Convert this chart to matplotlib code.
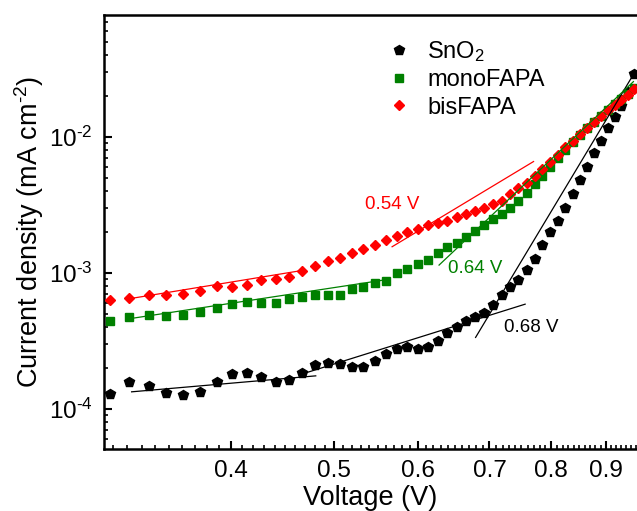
import numpy as np
import matplotlib
matplotlib.use("Agg")
import matplotlib.pyplot as plt
from matplotlib.ticker import FixedLocator, LogLocator, NullFormatter, FuncFormatter

plt.rcParams['font.family'] = ['Liberation Sans', 'DejaVu Sans']
plt.rcParams['mathtext.fontset'] = 'custom'
plt.rcParams['mathtext.rm'] = 'Liberation Sans'
plt.rcParams['mathtext.it'] = 'Liberation Sans:italic'
plt.rcParams['mathtext.bf'] = 'Liberation Sans:bold'

voltage = [0.308, 0.321, 0.335, 0.348, 0.361, 0.374, 0.388, 0.401, 0.414, 0.427,
           0.441, 0.454, 0.467, 0.480, 0.494, 0.507, 0.520, 0.533, 0.547, 0.560,
           0.573, 0.586, 0.600, 0.613, 0.626, 0.639, 0.653, 0.666, 0.679, 0.692,
           0.706, 0.719, 0.732, 0.745, 0.759, 0.772, 0.785, 0.798, 0.812, 0.825,
           0.838, 0.851, 0.865, 0.878, 0.891, 0.904, 0.918, 0.931, 0.944, 0.957]

sno2 = [1.28e-4, 1.56e-4, 1.46e-4, 1.30e-4, 1.25e-4, 1.33e-4, 1.58e-4, 1.81e-4, 1.83e-4, 1.71e-4,
        1.58e-4, 1.62e-4, 1.83e-4, 2.08e-4, 2.17e-4, 2.12e-4, 2.03e-4, 2.03e-4, 2.22e-4, 2.52e-4,
        2.75e-4, 2.85e-4, 2.75e-4, 2.85e-4, 3.12e-4, 3.57e-4, 4.00e-4, 4.38e-4, 4.69e-4, 5.07e-4,
        5.74e-4, 6.81e-4, 7.88e-4, 8.83e-4, 1.05e-3, 1.27e-3, 1.59e-3, 1.99e-3, 2.42e-3, 3.00e-3,
        3.8e-3, 4.8e-3, 6.0e-3, 7.6e-3, 9.4e-3, 1.17e-2, 1.41e-2, 1.70e-2, 2.15e-2, 2.9e-2]

mono = [4.38e-4, 4.69e-4, 4.85e-4, 4.77e-4, 4.85e-4, 5.10e-4, 5.49e-4, 5.84e-4, 6.08e-4, 6.01e-4,
        6.01e-4, 6.39e-4, 6.65e-4, 6.81e-4, 6.81e-4, 6.88e-4, 7.62e-4, 7.88e-4, 8.34e-4, 8.73e-4,
        9.89e-4, 1.07e-3, 1.16e-3, 1.24e-3, 1.39e-3, 1.54e-3, 1.66e-3, 1.82e-3, 2.02e-3, 2.23e-3,
        2.47e-3, 2.71e-3, 3.00e-3, 3.35e-3, 3.85e-3, 4.5e-3, 5.2e-3, 6.0e-3, 7.0e-3, 8.0e-3,
        9.2e-3, 1.04e-2, 1.16e-2, 1.29e-2, 1.43e-2, 1.58e-2, 1.74e-2, 1.91e-2, 2.08e-2, 2.28e-2]

bis = [6.29e-4, 6.47e-4, 6.88e-4, 6.85e-4, 6.92e-4, 7.37e-4, 7.97e-4, 7.88e-4, 8.16e-4, 8.83e-4,
       9.03e-4, 9.24e-4, 1.03e-3, 1.12e-3, 1.22e-3, 1.28e-3, 1.39e-3, 1.49e-3, 1.61e-3, 1.74e-3,
       1.86e-3, 1.99e-3, 2.11e-3, 2.23e-3, 2.34e-3, 2.42e-3, 2.59e-3, 2.71e-3, 2.86e-3, 3.00e-3,
       3.21e-3, 3.40e-3, 3.8e-3, 4.2e-3, 4.6e-3, 5.2e-3, 5.8e-3, 6.6e-3, 7.4e-3, 8.4e-3,
       9.4e-3, 1.05e-2, 1.17e-2, 1.30e-2, 1.43e-2, 1.57e-2, 1.72e-2, 1.88e-2, 2.05e-2, 2.25e-2]

# tangent fit lines: (x0, x1), (y0, y1)
black_fit_x = [(0.3229, 0.4808), (0.4684, 0.7561), (0.6793, 0.959)]
black_fit_y = [(1.327e-4, 1.74e-4), (1.81e-4, 5.87e-4), (3.34e-4, 3.03e-2)]
red_fit_x = [(0.321, 0.4648), (0.5671, 0.7700)]
red_fit_y = [(6.43e-4, 1.034e-3), (1.555e-3, 6.6e-3)]
green_fit_x = [(0.321, 0.5565), (0.6277, 0.9556)]
green_fit_y = [(4.58e-4, 8.83e-4), (1.139e-3, 2.56e-2)]

labels = ['SnO$_2$', 'monoFAPA', 'bisFAPA']
onset_texts = ['0.68 V', '0.64 V', '0.54 V']
onset_pos = [(0.7656, 3.98e-4), (0.678, 1.08e-3), (0.5669, 3.16e-3)]
colors = ['black', 'green', 'red']

fig = plt.figure(figsize=(6.37, 5.11), dpi=100)
ax = fig.add_axes([0.1633, 0.1213, 0.8367, 0.8484])
ax.set_xscale('log')
ax.set_yscale('log')

ax.plot(voltage, sno2, linestyle='none', marker='p', ms=7.8, color='black', label=labels[0], zorder=3)
ax.plot(voltage, mono, linestyle='none', marker='s', ms=6.3, color='green', label=labels[1], zorder=3)
ax.plot(voltage, bis, linestyle='none', marker='D', ms=5.6, color='red', label=labels[2], zorder=4)

for fx, fy in zip(black_fit_x, black_fit_y):
    ax.plot(fx, fy, color='black', lw=0.9, zorder=5)
for fx, fy in zip(green_fit_x, green_fit_y):
    ax.plot(fx, fy, color='green', lw=0.9, zorder=5)
for fx, fy in zip(red_fit_x, red_fit_y):
    ax.plot(fx, fy, color='red', lw=0.9, zorder=5)

for t, (tx, ty), c in zip(onset_texts, onset_pos, colors):
    ax.text(tx, ty, t, color=c, fontsize=13.5, ha='center', va='center')

ax.set_xlim(0.3042, 0.963)
ax.set_ylim(5.03e-5, 0.0786)

major_x = [0.4, 0.5, 0.6, 0.7, 0.8, 0.9]
ax.xaxis.set_major_locator(FixedLocator(major_x))
ax.set_xticklabels(['0.4', '0.5', '0.6', '0.7', '0.8', '0.9'])
minor_x = [round(v, 2) for v in np.arange(0.31, 0.97, 0.01) if round(v, 2) not in major_x]
ax.xaxis.set_minor_locator(FixedLocator(minor_x))
ax.xaxis.set_minor_formatter(NullFormatter())

def ylog_fmt(val, pos):
    e = int(round(np.log10(val)))
    return '10$^{\\text{-}%d}$' % (-e) if e < 0 else '10$^{%d}$' % e

ax.yaxis.set_major_locator(LogLocator(base=10, numticks=10))
ax.yaxis.set_minor_locator(LogLocator(base=10, subs=np.arange(2, 10), numticks=20))
ax.yaxis.set_major_formatter(FuncFormatter(ylog_fmt))
ax.yaxis.set_minor_formatter(NullFormatter())

ax.tick_params(axis='both', which='major', direction='in', length=6, width=1.5, labelsize=17.5, pad=8)
ax.tick_params(axis='both', which='minor', direction='in', length=3, width=1.2)
ax.tick_params(top=False, right=False)

for s in ['left', 'bottom', 'top']:
    ax.spines[s].set_linewidth(1.8)
ax.spines['right'].set_visible(False)

ax.set_xlabel('Voltage (V)', fontsize=19.5, labelpad=2)
ax.set_ylabel('Current density (mA cm$^{\\text{-}2}$)', fontsize=19.5, labelpad=2)

ax.legend(loc='upper left', bbox_to_anchor=(0.487, 0.995), frameon=False, fontsize=17,
          handletextpad=0.6, labelspacing=0.23, handlelength=1.2, markerscale=1.0)

fig.savefig('out.png', dpi=100)
